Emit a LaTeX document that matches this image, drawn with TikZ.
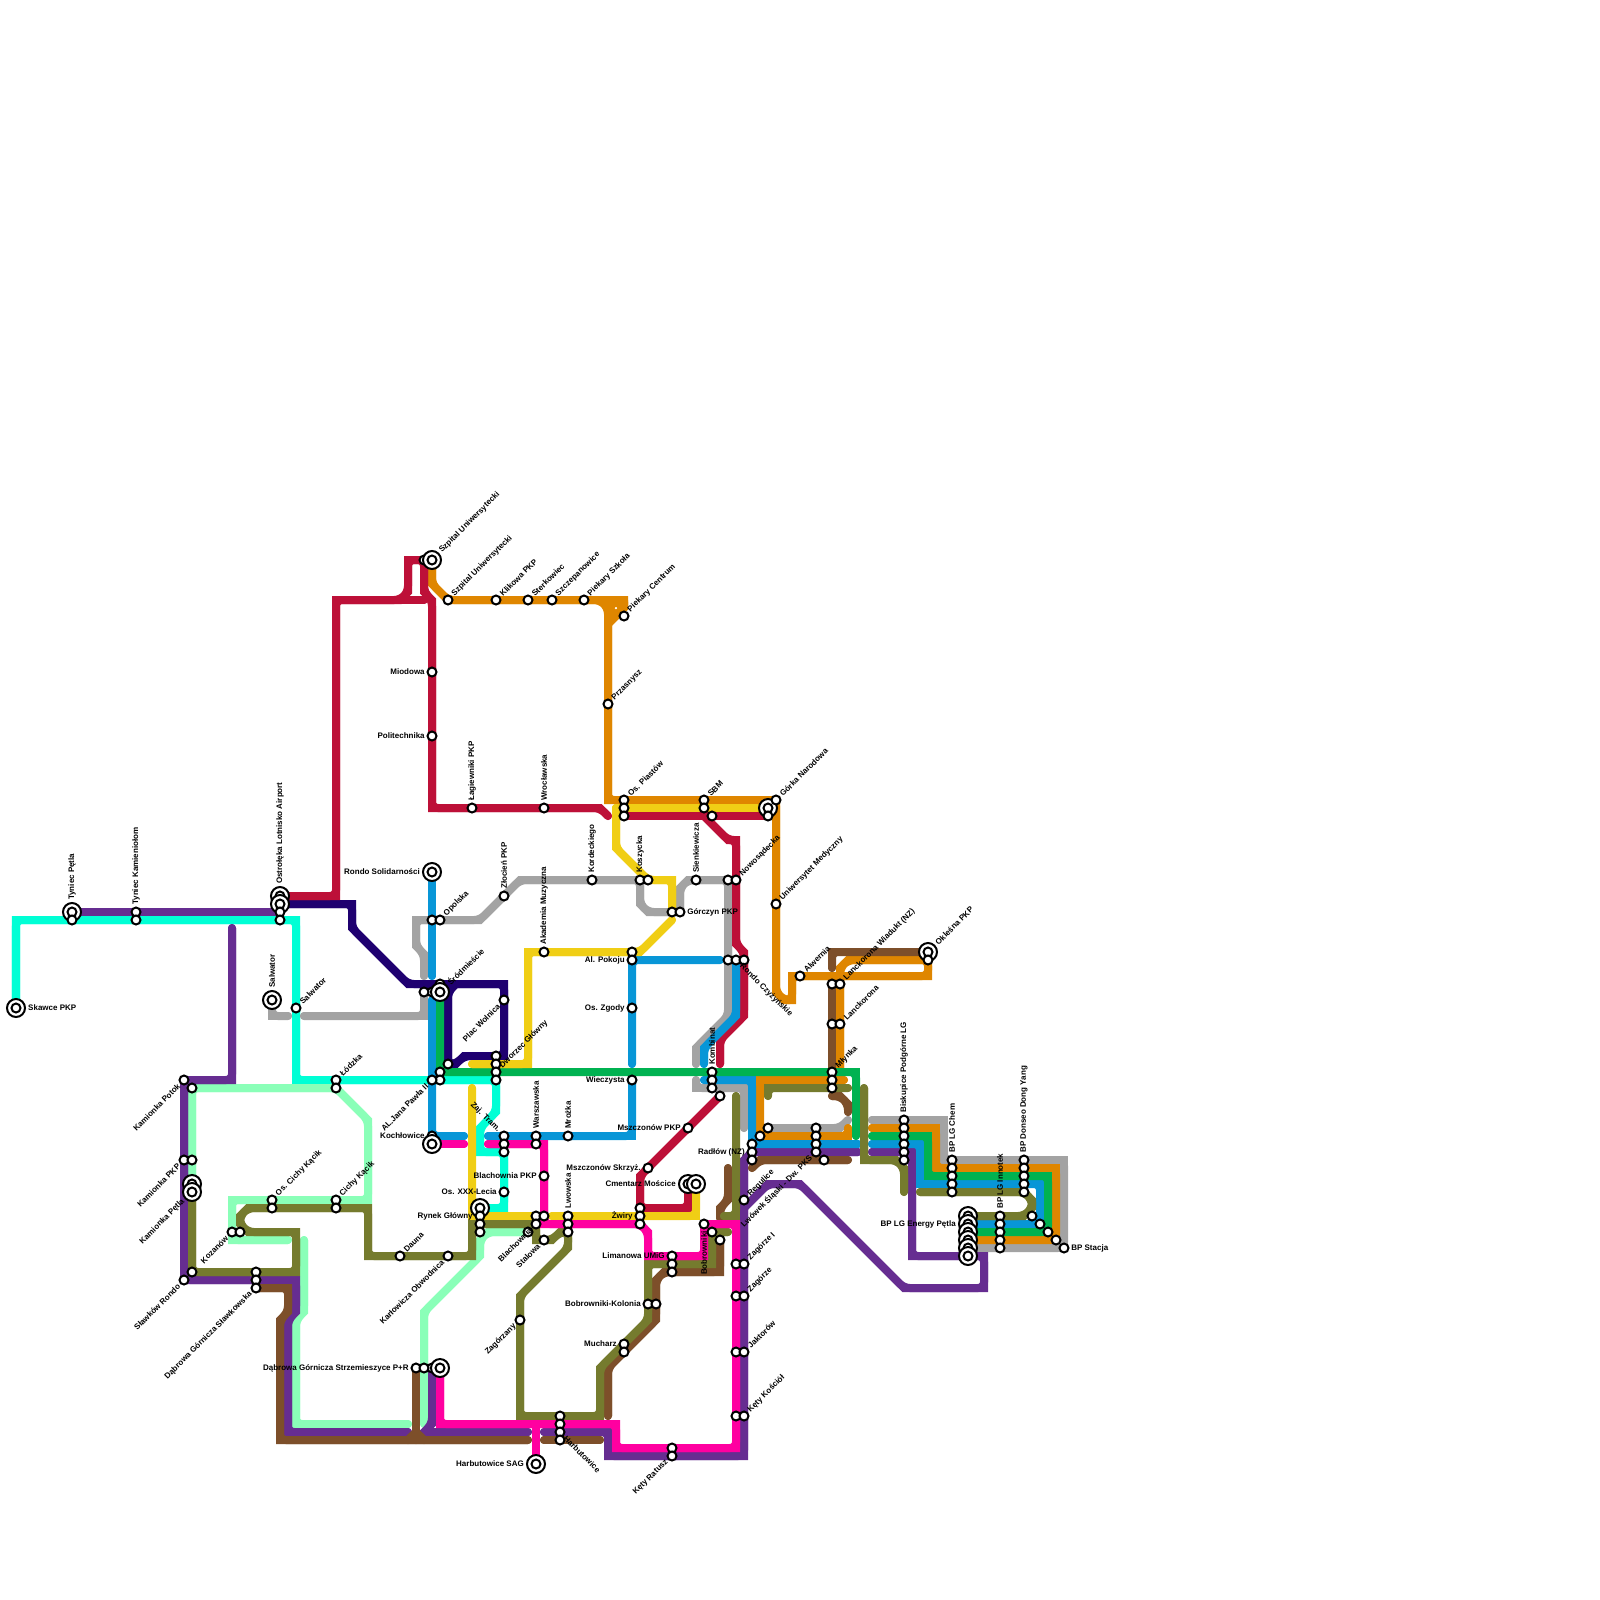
\documentclass[tikz,border=0pt]{standalone}
\usepackage{fontspec}
\setmainfont{Liberation Sans}
\usepackage{xcolor}
\usetikzlibrary{positioning}

\definecolor{lineCyan}{HTML}{00FFD5}
\definecolor{lineMint}{HTML}{8AFFB8}
\definecolor{lineGray}{HTML}{A3A3A3}
\definecolor{linePurple}{HTML}{662D91}
\definecolor{lineNavy}{HTML}{1F0070}
\definecolor{lineOrange}{HTML}{DF8600}
\definecolor{lineRed}{HTML}{BD1038}
\definecolor{lineBlue}{HTML}{0896D7}
\definecolor{lineGreen}{HTML}{00B251}
\definecolor{lineYellow}{HTML}{F0CE15}
\definecolor{lineBrown}{HTML}{7D4F2A}
\definecolor{lineOlive}{HTML}{757B2E}
\definecolor{lineMagenta}{HTML}{FF00A0}

\tikzset{
  route/.style={line width=5.69pt,line cap=round,line join=miter},
  station/.style={circle,draw=black,fill=white,line width=1.42pt,inner sep=0pt,minimum size=6.4pt},
  terminal/.style={circle,draw=black,fill=white,line width=1.42pt,inner sep=0pt,minimum size=12.8pt},
  lbl/.style={font=\bfseries\fontsize{5.69pt}{6pt}\selectfont,text=black,inner ysep=0pt},
  near/.style={inner xsep=5pt},
  far/.style={inner xsep=8.5pt},
  lblup/.style={lbl,rotate=90,anchor=west},
  lbldown/.style={lbl,rotate=90,anchor=east},
  lblne/.style={lbl,rotate=45,anchor=west},
  lblsw/.style={lbl,rotate=45,anchor=east},
  lblse/.style={lbl,rotate=-45,anchor=west},
  lblnw/.style={lbl,rotate=-45,anchor=east},
  lblleft/.style={lbl,anchor=east},
  lblright/.style={lbl,anchor=west}
}
% a route is drawn twice: square outer corners, eased inner corners
\newcommand{\route}[2]{\draw[route,#1] #2; \draw[route,#1,rounded corners=4.3pt] #2;}

\begin{document}
\begin{tikzpicture}[x=0.025cm,y=-0.025cm]
  \useasboundingbox (0,0) rectangle (1600,1600);

  % routes
  \route{lineCyan}{(16,1008) -- (16,920) -- (296,920) -- (296,1080) -- (496,1080) -- (496,1112) -- (480,1128) -- (480,1152) -- (504,1152) -- (504,1208) -- (480,1208)}

  \route{lineMint}{(192,1184) -- (192,1088) -- (336,1088) -- (368,1120) -- (368,1200) -- (232,1200) -- (232,1240) -- (288,1240)}
  \route{lineMint}{(304,1240) -- (304,1312) -- (296,1320) -- (296,1424) -- (408,1424)}
  \route{lineMint}{(528,1232) -- (488,1232) -- (480,1240) -- (480,1256) -- (424,1312) -- (424,1424)}

  \route{lineGray}{(272,1000) -- (272,1016) -- (288,1016)}
  \route{lineGray}{(304,1016) -- (424,1016) -- (424,992)}
  \route{lineGray}{(424,976) -- (424,954) -- (416,946) -- (416,920) -- (480,920) -- (520,880) -- (640,880) -- (640,904) -- (648,912) -- (672,912)}
  \route{lineGray}{(680,912) -- (680,888) -- (688,880) -- (728,880) -- (728,1016) -- (696,1048) -- (696,1064)}
  \route{lineGray}{(696,1080) -- (696,1088) -- (744,1088) -- (744,1128)}
  \route{lineGray}{(768,1128) -- (840,1128) -- (848,1120)}
  \route{lineGray}{(872,1120) -- (944,1120) -- (944,1160) -- (1064,1160) -- (1064,1248) -- (968,1248)}

  \route{linePurple}{(72,912) -- (280,912)}
  \route{linePurple}{(232,928) -- (232,1080) -- (184,1080) -- (184,1280) -- (296,1280) -- (296,1312) -- (288,1320) -- (288,1432) -- (408,1432)}
  \route{linePurple}{(432,1368) -- (432,1424) -- (424,1432) -- (528,1432)}
  \route{linePurple}{(544,1432) -- (608,1432) -- (608,1456) -- (744,1456) -- (744,1160) -- (752,1152) -- (858,1152)}
  \route{linePurple}{(872,1152) -- (912,1152) -- (912,1256) -- (984,1256) -- (984,1288) -- (904,1288) -- (800,1184) -- (768,1184) -- (744,1208)}

  \route{lineNavy}{(288,904) -- (352,904) -- (352,928) -- (408,984) -- (504,984) -- (504,1056) -- (464,1056) -- (456,1064) -- (448,1064) -- (448,992) -- (456,984)}

  \route{lineOrange}{(432,560) -- (432,584) -- (448,600) -- (600,600) -- (608,608) -- (608,800) -- (776,800) -- (776,992) -- (784,1000) -- (792,1000) -- (792,976) -- (928,976) -- (928,960) -- (848,960) -- (840,968) -- (840,1072)}
  \route{lineOrange}{(600,600) -- (624,600) -- (624,608) -- (608,624)}
  \fill[lineOrange,even odd rule] (604,600) -- (628,600) -- (628,609) -- (612,625) -- (604,625) -- cycle (616,608) circle (1.5);
  \route{lineOrange}{(844,1080) -- (760,1080) -- (760,1136) -- (848,1136) -- (848,1128)}
  \route{lineOrange}{(872,1128) -- (936,1128) -- (936,1168) -- (1056,1168) -- (1056,1240) -- (968,1240)}

  \route{lineRed}{(280,896) -- (336,896) -- (336,600) -- (400,600) -- (408,592) -- (408,560) -- (424,560) -- (424,592) -- (432,600) -- (432,808) -- (600,808) -- (608,816)}
  \route{lineRed}{(400,600) -- (424,600)}
  \route{lineRed}{(624,816) -- (768,816)}
  \route{lineRed}{(704,816) -- (728,840) -- (736,840) -- (736,944) -- (744,952) -- (744,1016) -- (720,1040) -- (720,1064)}
  \route{lineRed}{(720,1096) -- (640,1176) -- (640,1208) -- (688,1208) -- (688,1184)}

  \route{lineBlue}{(432,872) -- (432,976)}
  \route{lineBlue}{(432,1000) -- (432,1136) -- (464,1136)}
  \route{lineBlue}{(720,960) -- (632,960) -- (632,1064)}
  \route{lineBlue}{(632,1080) -- (632,1136) -- (488,1136)}
  \route{lineBlue}{(736,960) -- (736,1016) -- (704,1048) -- (704,1064)}
  \route{lineBlue}{(704,1080) -- (752,1080) -- (752,1144) -- (858,1144)}
  \route{lineBlue}{(872,1144) -- (920,1144) -- (920,1184) -- (1040,1184) -- (1040,1224) -- (968,1224)}

  \route{lineGreen}{(440,1000) -- (440,1072) -- (856,1072) -- (856,1136)}
  \route{lineGreen}{(872,1136) -- (928,1136) -- (928,1176) -- (1048,1176) -- (1048,1232) -- (968,1232)}

  \route{lineYellow}{(472,1064) -- (528,1064) -- (528,952) -- (640,952) -- (672,920)}
  \route{lineYellow}{(472,1088) -- (472,1216) -- (534,1216)}
  \route{lineYellow}{(552,1216) -- (696,1216) -- (696,1184)}
  \route{lineYellow}{(616,808) -- (768,808)}
  \route{lineYellow}{(616,808) -- (616,848) -- (648,880) -- (672,880) -- (672,912)}

  \route{lineBrown}{(256,1288) -- (288,1288) -- (288,1312) -- (280,1320) -- (280,1440) -- (528,1440)}
  \route{lineBrown}{(416,1368) -- (416,1440)}
  \route{lineBrown}{(408,1440) -- (416,1432) -- (424,1440)}
  \route{lineBrown}{(544,1440) -- (600,1440)}
  \route{lineBrown}{(608,1416) -- (608,1368) -- (656,1320) -- (656,1280) -- (664,1272) -- (720,1272) -- (720,1240)}
  \route{lineBrown}{(728,1168) -- (728,1200) -- (720,1208) -- (720,1218)}
  \route{lineBrown}{(752,1168) -- (760,1160) -- (848,1160)}
  \route{lineBrown}{(832,1096) -- (840,1096) -- (848,1104) -- (848,1112)}
  \route{lineBrown}{(832,968) -- (832,952) -- (928,952)}
  \route{lineBrown}{(832,984) -- (832,1072)}

  \route{lineOlive}{(192,1192) -- (192,1272) -- (296,1272) -- (296,1232) -- (248,1232) -- (240,1224) -- (240,1216) -- (248,1208) -- (368,1208) -- (368,1256) -- (472,1256) -- (472,1224) -- (536,1224) -- (536,1240) -- (552,1240) -- (560,1232) -- (568,1232) -- (568,1248) -- (520,1296) -- (520,1416) -- (600,1416) -- (600,1368) -- (648,1320) -- (648,1264) -- (712,1264) -- (712,1232) -- (728,1232)}
  \route{lineOlive}{(736,1096) -- (736,1216) -- (724,1216)}
  \route{lineOlive}{(768,1096) -- (768,1088) -- (848,1088)}
  \route{lineOlive}{(864,1088) -- (864,1160) -- (896,1160) -- (904,1168) -- (904,1192)}
  \route{lineOlive}{(920,1192) -- (1024,1192) -- (1032,1200) -- (1032,1208) -- (1024,1216) -- (968,1216)}

  \route{lineMagenta}{(488,1144) -- (544,1144) -- (544,1224) -- (640,1224) -- (648,1232) -- (648,1256) -- (704,1256) -- (704,1224) -- (736,1224) -- (736,1448) -- (616,1448) -- (616,1424) -- (440,1424) -- (440,1368)}
  \route{lineMagenta}{(440,1144) -- (464,1144)}
  \route{lineMagenta}{(536,1424) -- (536,1464)}

  % stations that lie under a terminal
  \foreach \st/\px/\py in {szpHid/424/560,sroHid/432/992,sroTop/440/984,kocS/432/1136,strHid/432/1368} {
    \node[station] (\st) at (\px,\py) {};
  }

  % terminals
  \foreach \st/\px/\py in {skawce/16/1008,tyniec/72/912,ostrA/280/896,ostrB/280/904,rondoSol/432/872,szpital/432/560,salwT/272/1000,sroT/440/992,kamA/192/1184,kamB/192/1192,kocT/432/1144,strT/440/1368,rynek/480/1208,harbSag/536/1464,cmA/688/1184,cmB/696/1184,gorka/768/808,okl/928/952,enA/968/1216,enB/968/1224,enC/968/1232,enD/968/1240,enE/968/1248,enF/968/1256} {
    \node[terminal] (\st) at (\px,\py) {};
    \node[station] (\st in) at (\st) {};
  }

  % stations
  \foreach \st/\px/\py in {tynB/72/920,kamlA/136/912,kamlB/136/920,ostrC/280/912,ostrD/280/920,salw/296/1008,lodzA/336/1080,lodzB/336/1088,potA/184/1080,potB/192/1088,kpkpA/184/1160,kpkpB/192/1160,slaA/184/1280,slaB/192/1272,dsA/256/1272,dsB/256/1280,dsC/256/1288,kozA/232/1232,kozB/240/1232,ockA/272/1200,ockB/272/1208,ckA/336/1200,ckB/336/1208,dauna/400/1256,karl/448/1256,dgsA/416/1368,dgsB/424/1368,
    szpU/448/600,klik/496/600,ster/528/600,szcz/552/600,piekS/584/600,piekC/624/616,przas/608/704,miod/432/672,poli/432/736,lag/472/808,wroc/544/808,
    opoA/432/920,opoB/440/920,zloc/504/896,sroL/424/992,wol/504/1000,wnA/448/1064,jpA/440/1072,jpB/440/1080,jpC/432/1080,dwA/496/1056,dwB/496/1064,dwC/496/1072,dwD/496/1080,akad/544/952,kord/592/880,koszA/640/880,koszB/648/880,gorcA/672/912,gorcB/680/912,sienk/696/880,nowA/728/880,nowB/736/880,pokA/632/952,pokB/632/960,zgod/632/1008,wiecz/632/1080,czyA/728/960,czyB/736/960,czyC/744/960,
    piaA/624/800,piaB/624/808,piaC/624/816,sbmA/704/800,sbmB/704/808,sbmC/712/816,gorkB/768/816,gorkC/776/800,uniw/776/904,alw/800/976,lwA/832/984,lwB/840/984,lanA/832/1024,lanB/840/1024,mlyA/832/1072,mlyB/832/1080,mlyC/832/1088,oklB/928/960,
    komA/712/1072,komB/712/1080,komC/712/1088,komD/720/1096,mszP/688/1128,mszS/648/1168,regu/744/1200,radA/752/1144,radB/752/1152,radC/752/1160,radD/760/1136,radE/768/1128,lwoA/816/1128,lwoB/816/1136,lwoC/816/1144,lwoD/816/1152,lwoE/824/1160,
    bisA/904/1120,bisB/904/1128,bisC/904/1136,bisD/904/1144,bisE/904/1152,bisF/904/1160,cheA/952/1160,cheB/952/1168,cheC/952/1176,cheD/952/1184,cheE/952/1192,donA/1024/1160,donB/1024/1168,donC/1024/1176,donD/1024/1184,donE/1024/1192,innA/1000/1216,innB/1000/1224,innC/1000/1232,innD/1000/1240,innE/1000/1248,diaA/1032/1216,diaB/1040/1224,diaC/1048/1232,diaD/1056/1240,bpst/1064/1248,
    zajA/504/1136,zajB/504/1144,zajC/504/1152,warA/536/1136,warB/536/1144,mroz/568/1136,blaP/544/1176,xxx/504/1192,rynA/480/1216,rynB/480/1224,rynC/480/1232,blaA/536/1216,blaB/544/1216,blaC/536/1224,blaD/528/1232,stal/544/1240,lwoS/568/1216,lwoT/568/1224,lwoU/568/1232,zwiA/640/1208,zwiB/640/1216,zwiC/640/1224,bobA/704/1224,bobB/712/1232,bobC/720/1240,limA/672/1256,limB/672/1264,limC/672/1272,kolA/648/1304,kolB/656/1304,mucA/624/1344,mucB/624/1352,zag/520/1320,
    zgoA/736/1264,zgoB/744/1264,zgrA/736/1296,zgrB/744/1296,jakA/736/1352,jakB/744/1352,kosA/736/1416,kosB/744/1416,ratA/672/1448,ratB/672/1456,harA/560/1416,harB/560/1424,harC/560/1432,harD/560/1440} {
    \node[station] (\st) at (\px,\py) {};
  }

  % labels
  \foreach \st/\sty/\txt in {
    tyniec/far/Tyniec Pętla,ostrA/far/Ostrołęka Lotnisko Airport,kamlA/near/Tyniec Kamieniołom,salwT/far/Salwator,zloc/near/Złocień PKP,lag/near/Łagiewniki PKP,wroc/near/Wrocławska,akad/near/Akademia Muzyczna,kord/near/Kordeckiego,koszA/near/Koszycka,sienk/near/Sienkiewicza,komA/near/Kombinat,warA/near/Warszawska,mroz/near/Mrożka,lwoS/near/Lwowska,bisA/near/Biskupice Podgórne LG,cheA/near/BP LG Chem,donA/near/BP Donseo Dong Yang,innA/near/BP LG Innotek} {
    \node[lblup,\sty] (l\st) at (\st) {\txt};
  }
  \foreach \st/\sty/\txt in {bobA/near/Bobrowniki} {
    \node[lbldown,\sty] (l\st) at (\st) {\txt};
  }
  \foreach \st/\sty/\txt in {
    szpital/far/Szpital Uniwersytecki,szpU/near/Szpital Uniwersytecki,klik/near/Klikowa PKP,ster/near/Sterkowiec,szcz/near/Szczepanowice,piekS/near/Piekary Szkoła,piekC/near/Piekary Centrum,przas/near/Przasnysz,piaA/near/Os. Piastów,sbmA/near/SBM,gorkC/near/Górka Narodowa,nowB/near/Nowosądecka,uniw/near/Uniwersytet Medyczny,alw/near/Alwernia,lwB/near/Lanckorona Wiadukt (NZ),lanB/near/Lanckorona,mlyA/near/Młynka,okl/far/Okleśna PKP,opoB/near/Opolska,sroT/far/Śródmieście,lodzA/near/Łódzka,salw/near/Salwator,ockA/near/Os. Cichy Kącik,ckA/near/Cichy Kącik,dauna/near/Dauna,dwC/near/Dworzec Główny,regu/near/Regulice,zgoB/near/Zagórze I,zgrB/near/Zagórze,jakB/near/Jaktorów,kosB/near/Kęty Kościół} {
    \node[lblne,\sty] (l\st) at (\st) {\txt};
  }
  \foreach \st/\sty/\txt in {
    potA/near/Kamionka Potok,kpkpA/near/Kamionka PKP,kamB/far/Kamionka Pętla,kozA/near/Kozanów,slaA/near/Sławków Rondo,dsC/near/Dąbrowa Górnicza Sławkowska,karl/near/Karłowicza Obwodnica,jpC/near/AL.Jana Pawła II,wol/near/Plac Wolnica,zag/near/Zagórzany,blaC/near/Blachownia,stal/near/Stalowa,ratB/near/Kęty Ratusz,lwoD/near/Lwówek Śląski - Dw. PKS} {
    \node[lblsw,\sty] (l\st) at (\st) {\txt};
  }
  \foreach \st/\sty/\txt in {czyB/near/Rondo Czyżyńskie,harC/near/Harbutowice} {
    \node[lblse,\sty] (l\st) at (\st) {\txt};
  }
  \foreach \st/\sty/\txt in {zajA/near/Zaj. Tram.} {
    \node[lblnw,\sty] (l\st) at (\st) {\txt};
  }
  \foreach \st/\sty/\txt in {
    rondoSol/far/Rondo Solidarności,miod/near/Miodowa,poli/near/Politechnika,pokB/near/Al. Pokoju,zgod/near/Os. Zgody,wiecz/near/Wieczysta,mszP/near/Mszczonów PKP,mszS/near/Mszczonów Skrzyż.,cmA/far/Cmentarz Mościce,zwiB/near/Żwiry,limA/near/Limanowa UMiG,kolA/near/Bobrowniki-Kolonia,mucA/near/Mucharz,harbSag/far/Harbutowice SAG,kocS/near/Kochłowice,blaP/near/Blachownia PKP,xxx/near/Os. XXX-Lecia,rynA/near/Rynek Główny,radB/near/Radłów (NZ),enB/far/BP LG Energy Pętla,dgsA/near/Dąbrowa Górnicza Strzemieszyce P+R} {
    \node[lblleft,\sty] (l\st) at (\st) {\txt};
  }
  \foreach \st/\sty/\txt in {skawce/far/Skawce PKP,gorcB/near/Górczyn PKP,bpst/near/BP Stacja} {
    \node[lblright,\sty] (l\st) at (\st) {\txt};
  }
\end{tikzpicture}
\end{document}
